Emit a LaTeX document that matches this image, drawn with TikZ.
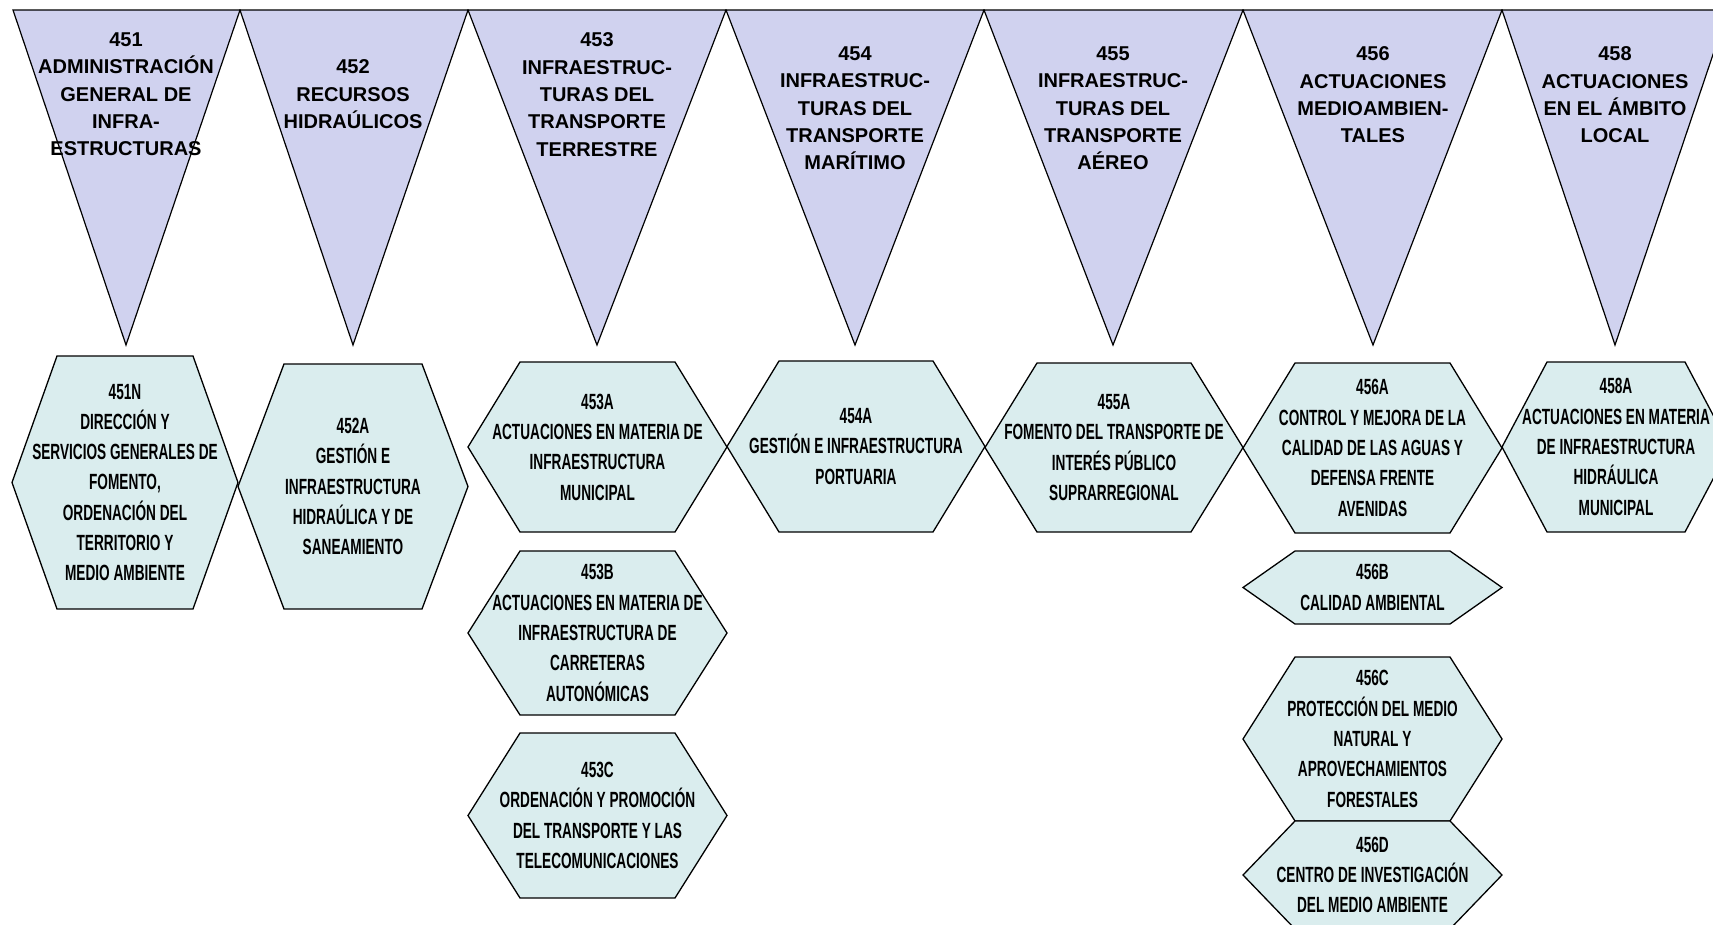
\documentclass[tikz,border=0pt]{standalone}
\usepackage{fontspec}
\setmainfont{Liberation Sans}
\newfontfamily\hexfont[FakeStretch=0.62]{Liberation Sans}
\usetikzlibrary{positioning}
\definecolor{trifill}{RGB}{208,210,239}
\definecolor{hexfill}{RGB}{218,237,238}
% hexagon: left, right, top, bottom, inset
\newcommand{\hexa}[5]{\draw[hexline] (#1,{(#3+#4)/2}) -- (#1+#5,#3) -- (#2-#5,#3) -- (#2,{(#3+#4)/2}) -- (#2-#5,#4) -- (#1+#5,#4) -- cycle;}

\begin{document}
\begin{tikzpicture}[x=1pt,y=-1pt]
 \tikzset{tri/.style={draw=black,fill=trifill,line width=1.2pt},
  hexline/.style={draw=black,fill=hexfill,line width=1.3pt},
  tritext/.style={anchor=north,align=center,inner sep=0pt,font=\fontsize{20}{27.3}\selectfont\bfseries},
  hextext/.style={align=center,inner sep=0pt,font=\hexfont\fontsize{22}{30.3}\selectfont\bfseries}}
 \useasboundingbox (0,0) rectangle (1713,924);
 \clip (0,0) rectangle (1713,924);

 % programmes (triangles)
 \draw[tri] (13,10) -- (240,10) -- (126,345) -- cycle;
 \draw[tri] (240,10) -- (468,10) -- (353,345) -- cycle;
 \draw[tri] (468,10) -- (726,10) -- (597,345) -- cycle;
 \draw[tri] (726,10) -- (984,10) -- (855,345) -- cycle;
 \draw[tri] (984,10) -- (1243,10) -- (1113,345) -- cycle;
 \draw[tri] (1243,10) -- (1502,10) -- (1373,345) -- cycle;
 \draw[tri] (1502,10) -- (1728,10) -- (1615,345) -- cycle;

 % subprogrammes (hexagons)
 \hexa{12}{238}{356}{609}{45}
 \hexa{238}{468}{364}{609}{46}
 \hexa{468}{727}{362}{532}{52}
 \hexa{468}{727}{551}{715}{52}
 \hexa{468}{727}{733}{898}{52}
 \hexa{727}{985}{361}{532}{52}
 \hexa{985}{1243}{363}{532}{52}
 \hexa{1243}{1502}{363}{533}{52}
 \hexa{1243}{1502}{551}{624}{52}
 \hexa{1243}{1502}{657}{821}{52}
 \hexa{1243}{1502}{821}{929}{52}
 \hexa{1502}{1730}{362}{532}{45}

 \node[tritext] (t451) at (126,32.7) {451\\ADMINISTRACIÓN\\GENERAL DE\\INFRA-\\ESTRUCTURAS};
 \node[tritext] (t452) at (353,59.7) {452\\RECURSOS\\HIDRAÚLICOS};
 \node[tritext] (t453) at (597,32.7) {453\\INFRAESTRUC-\\TURAS DEL\\TRANSPORTE\\TERRESTRE};
 \node[tritext] (t454) at (855,46.7) {454\\INFRAESTRUC-\\TURAS DEL\\TRANSPORTE\\MARÍTIMO};
 \node[tritext] (t455) at (1113,46.7) {455\\INFRAESTRUC-\\TURAS DEL\\TRANSPORTE\\AÉREO};
 \node[tritext] (t456) at (1373,46.7) {456\\ACTUACIONES\\MEDIOAMBIEN-\\TALES};
 \node[tritext] (t458) at (1615,46.7) {458\\ACTUACIONES\\EN EL ÁMBITO\\LOCAL};

 \node[hextext] (h451N) at (125,482.5) {451N\\DIRECCIÓN Y\\SERVICIOS GENERALES DE\\FOMENTO,\\ORDENACIÓN DEL\\TERRITORIO Y\\MEDIO AMBIENTE};
 \node[hextext] (h452A) at (353,486.5) {452A\\GESTIÓN E\\INFRAESTRUCTURA\\HIDRAÚLICA Y DE\\SANEAMIENTO};
 \node[hextext] (h453A) at (597.5,447) {453A\\ACTUACIONES EN MATERIA DE\\INFRAESTRUCTURA\\MUNICIPAL};
 \node[hextext] (h453B) at (597.5,633) {453B\\ACTUACIONES EN MATERIA DE\\INFRAESTRUCTURA DE\\CARRETERAS\\AUTONÓMICAS};
 \node[hextext] (h453C) at (597.5,815.5) {453C\\ORDENACIÓN Y PROMOCIÓN\\DEL TRANSPORTE Y LAS\\TELECOMUNICACIONES};
 \node[hextext] (h454A) at (856,446.5) {454A\\GESTIÓN E INFRAESTRUCTURA\\PORTUARIA};
 \node[hextext] (h455A) at (1114,447.5) {455A\\FOMENTO DEL TRANSPORTE DE\\INTERÉS PÚBLICO\\SUPRARREGIONAL};
 \node[hextext] (h456A) at (1372.5,448) {456A\\CONTROL Y MEJORA DE LA\\CALIDAD DE LAS AGUAS Y\\DEFENSA FRENTE\\AVENIDAS};
 \node[hextext] (h456B) at (1372.5,587.5) {456B\\CALIDAD AMBIENTAL};
 \node[hextext] (h456C) at (1372.5,739) {456C\\PROTECCIÓN DEL MEDIO\\NATURAL Y\\APROVECHAMIENTOS\\FORESTALES};
 \node[hextext] (h456D) at (1372.5,875) {456D\\CENTRO DE INVESTIGACIÓN\\DEL MEDIO AMBIENTE};
 \node[hextext] (h458A) at (1616,447) {458A\\ACTUACIONES EN MATERIA\\DE INFRAESTRUCTURA\\HIDRÁULICA\\MUNICIPAL};
\end{tikzpicture}
\end{document}
